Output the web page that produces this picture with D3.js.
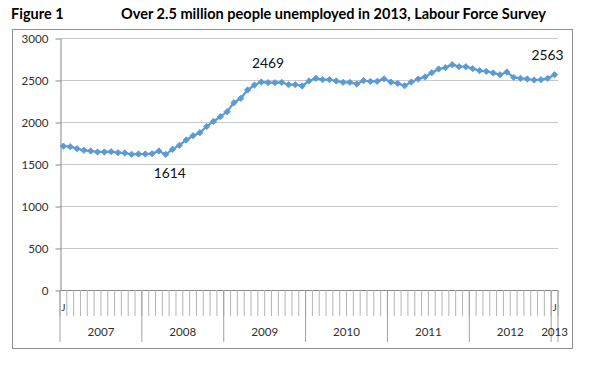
<!DOCTYPE html>
<html lang="en">
<head>
<meta charset="UTF-8">
<title>Unemployment, Labour Force Survey</title>
<script src="https://cdn.jsdelivr.net/npm/d3@7"></script>
<style>
  body { margin: 0; background: #fff; }
  svg { display: block; font-family: Lato, "Open Sans", sans-serif; }
</style>
</head>
<body>
<div id="chart"></div>
<script>

// years on the category axis and how many months of each are shown
var years = ["2007", "2008", "2009", "2010", "2011", "2012", "2013"];
var monthsInYear = [12, 12, 12, 12, 12, 12, 1];

// month labels, Excel only had room for the two Januaries at the ends
var monthLabels = ["J", "", "", "", "", "", "", "", "", "", "", "",
  "", "", "", "", "", "", "", "", "", "", "", "",
  "", "", "", "", "", "", "", "", "", "", "", "",
  "", "", "", "", "", "", "", "", "", "", "", "",
  "", "", "", "", "", "", "", "", "", "", "", "",
  "", "", "", "", "", "", "", "", "", "", "", "",
  "J"];

// unemployed people, thousands (Jan 2007 - Jan 2013)
var unemployed = [
  1712, 1706, 1683, 1663, 1655, 1643, 1643, 1647, 1635, 1631, 1615, 1619,
  1619, 1623, 1655, 1614, 1675, 1722, 1786, 1837, 1873, 1946, 2008, 2063,
  2123, 2230, 2282, 2381, 2440, 2476, 2469, 2468, 2472, 2444, 2444, 2429,
  2488, 2520, 2504, 2504, 2488, 2472, 2472, 2452, 2492, 2484, 2484, 2514,
  2476, 2460, 2432, 2476, 2512, 2536, 2587, 2631, 2647, 2683, 2659, 2659,
  2635, 2611, 2603, 2583, 2563, 2595, 2532, 2520, 2512, 2500, 2504, 2520,
  2563];

var yTicks = [0, 500, 1000, 1500, 2000, 2500, 3000];

// points that carry a data label
var labelled = [15, 30, 72];

// sizes
var w = 593, h = 377;
var plotLeft = 60, plotRight = 558, plotTop = 38, plotBottom = 290;

var svg = d3.select("#chart").append("svg")
  .attr("width", w)
  .attr("height", h);

// category keys, one per month
var cats = [];
years.forEach(function(yr, k) {
  d3.range(monthsInYear[k]).forEach(function(m) { cats.push(yr + "-" + (m + 1)); });
});

var x = d3.scaleBand().domain(cats).range([plotLeft, plotRight]);
var bw = x.bandwidth();
var y = d3.scaleLinear().domain([0, 3000]).range([plotBottom, plotTop]);

function cx(i) { return x(cats[i]) + bw / 2; }

// chart frame
svg.append("rect")
  .attr("x", 12.5).attr("y", 29.5)
  .attr("width", 560).attr("height", 319)
  .attr("fill", "none")
  .attr("stroke", "#8e8e8e");

// titles
svg.append("text")
  .attr("x", 11).attr("y", 19)
  .attr("font-size", 14.5).attr("font-weight", "bold")
  .text("Figure 1");

svg.append("text")
  .attr("x", 121).attr("y", 19)
  .attr("font-size", 14.5).attr("font-weight", "bold")
  .attr("textLength", 425).attr("lengthAdjust", "spacingAndGlyphs")
  .text("Over 2.5 million people unemployed in 2013, Labour Force Survey");

// gridlines
svg.append("g")
  .selectAll("line")
  .data(yTicks.filter(function(d) { return d > 0; }))
  .enter()
  .append("line")
  .attr("x1", plotLeft).attr("x2", plotRight)
  .attr("y1", function(d) { return Math.round(y(d)) + 0.5; })
  .attr("y2", function(d) { return Math.round(y(d)) + 0.5; })
  .attr("stroke", "#c8c8c8");

// value axis
var yAxis = svg.append("g")
  .attr("transform", "translate(" + (plotLeft + 0.5) + ",0.5)")
  .call(d3.axisLeft(y).tickValues(yTicks).tickFormat(d3.format("d"))
    .tickSize(5).tickSizeOuter(0).tickPadding(7));
yAxis.select(".domain").attr("stroke", "#868686");
yAxis.selectAll(".tick line").attr("stroke", "#868686");
yAxis.selectAll(".tick text")
  .attr("font-family", "Lato, sans-serif")
  .attr("font-size", 11.6)
  .attr("fill", "#303030");

// category axis line
svg.append("line")
  .attr("x1", plotLeft).attr("x2", plotRight)
  .attr("y1", plotBottom + 0.5).attr("y2", plotBottom + 0.5)
  .attr("stroke", "#868686");

// month ticks between categories
var bounds = cats.map(function(c) { return x(c); }).concat([plotRight]);
svg.append("g")
  .selectAll("line")
  .data(bounds)
  .enter()
  .append("line")
  .attr("x1", function(d) { return d; })
  .attr("x2", function(d) { return d; })
  .attr("y1", plotBottom).attr("y2", 316)
  .attr("stroke", "#b4b4b4");

// year separators
var yearStarts = [];
years.forEach(function(yr) { yearStarts.push(x(yr + "-1")); });
svg.append("g")
  .selectAll("line")
  .data(yearStarts.concat([plotRight]))
  .enter()
  .append("line")
  .attr("x1", function(d) { return d; })
  .attr("x2", function(d) { return d; })
  .attr("y1", plotBottom).attr("y2", 342)
  .attr("stroke", "#a0a0a0");

// month labels
svg.append("g")
  .selectAll("text")
  .data(monthLabels)
  .enter()
  .append("text")
  .attr("x", function(d, i) { return cx(i); })
  .attr("y", 308)
  .attr("text-anchor", "middle")
  .attr("dominant-baseline", "middle")
  .attr("font-size", 10)
  .attr("fill", "#303030")
  .text(function(d) { return d; });

// year labels, centred in each year's span
svg.append("g")
  .selectAll("text")
  .data(years)
  .enter()
  .append("text")
  .attr("x", function(d, k) {
    var a = x(d + "-1");
    var b = a + monthsInYear[k] * x.step();
    return (a + b) / 2;
  })
  .attr("y", 333)
  .attr("text-anchor", "middle")
  .attr("dominant-baseline", "middle")
  .attr("font-size", 11.6)
  .attr("fill", "#303030")
  .text(function(d) { return d; });

// the series
var line = d3.line()
  .x(function(d, i) { return cx(i); })
  .y(function(d) { return y(d); });

svg.append("path")
  .datum(unemployed)
  .attr("d", line)
  .attr("fill", "none")
  .attr("stroke", "#5b9bd5")
  .attr("stroke-width", 2.25)
  .attr("stroke-linejoin", "round");

svg.append("g")
  .selectAll("path")
  .data(unemployed)
  .enter()
  .append("path")
  .attr("d", d3.symbol(d3.symbolSquare, 20))
  .attr("transform", function(d, i) { return "translate(" + cx(i) + "," + y(d) + ") rotate(45)"; })
  .attr("fill", "#5b9bd5")
  .attr("stroke", "#5b9bd5")
  .attr("stroke-width", 0.8);

// data labels: the low goes underneath, the others sit above
svg.append("g")
  .selectAll("text")
  .data(labelled)
  .enter()
  .append("text")
  .attr("x", function(i) { return cx(i) + (i === 15 ? 4 : i === 72 ? -7 : 0); })
  .attr("y", function(i) { return y(unemployed[i]) + (i === 15 ? 20 : -18); })
  .attr("text-anchor", "middle")
  .attr("dominant-baseline", "middle")
  .attr("font-size", 13.8)
  .attr("fill", "#111")
  .text(function(i) { return unemployed[i]; });

</script>
</body>
</html>
